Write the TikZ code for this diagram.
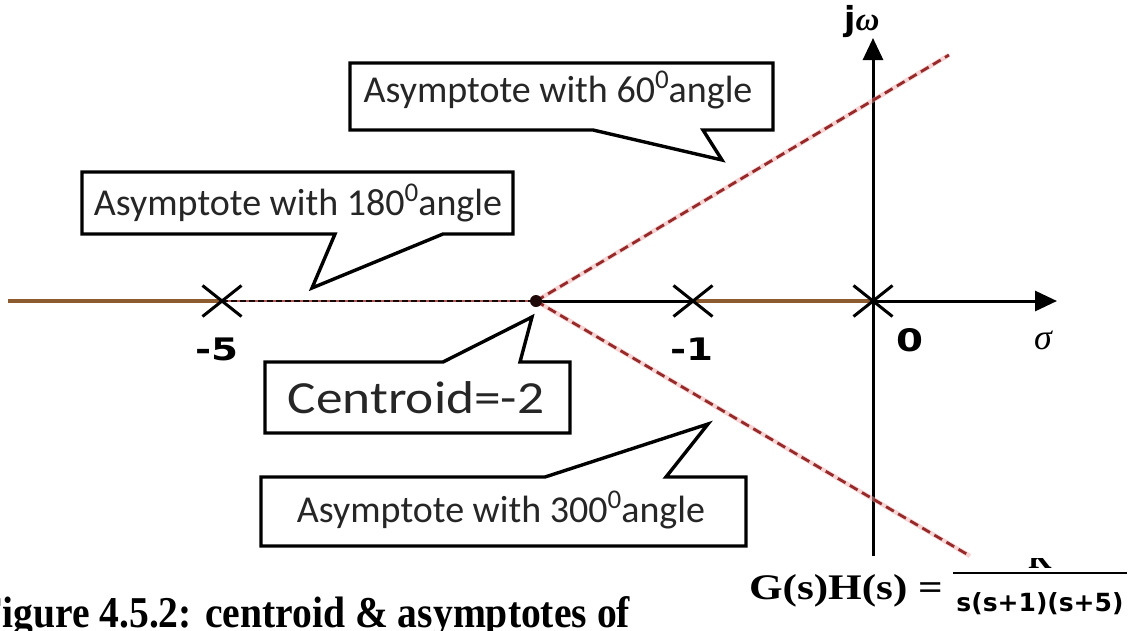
\documentclass[tikz,border=0pt]{standalone}
\usepackage{fontspec}
\usepackage{graphicx}
\setmainfont{Carlito}
\newfontfamily\capfont{Liberation Serif}
\newfontfamily\djv{DejaVu Sans}
\usetikzlibrary{arrows.meta,shapes.misc}
\definecolor{rlocus}{RGB}{140,92,48}
\definecolor{asy}{RGB}{150,42,42}
\definecolor{asyglow}{RGB}{240,170,170}
\definecolor{txt}{RGB}{38,38,38}
\newcommand\sdeg{\raisebox{0.36em}{\fontsize{27}{30}\selectfont 0}}
\begin{document}
\begin{tikzpicture}[x=1pt,y=-1pt,
  axis/.style={line width=3pt,black},
  rootl/.style={line width=3.8pt,rlocus},
  asyline/.style={line width=2.8pt,asy,dash pattern=on 9pt off 5pt},
  glow/.style={line width=4.5pt,asyglow,opacity=0.5},
  polex/.style={draw,cross out,line width=3pt,minimum width=36pt,minimum height=28pt,inner sep=0pt},
  callout/.style={draw=black,line width=3.4pt,fill=white,line join=miter},
  btxt/.style={font=\fontsize{38}{44}\selectfont,text=txt,inner sep=0pt},
  lbl/.style={font=\djv\bfseries\fontsize{31}{34}\selectfont,inner sep=0pt},
  tip/.style={-{Triangle[length=22pt,width=20pt]}}
]
\clip (0,0) rectangle (1129,630);
\fill[white] (0,0) rectangle (1129,630);

% coordinates
\coordinate (left) at (8,301);
\coordinate (p5) at (222,301);
\coordinate (cen) at (536,301);
\coordinate (p1) at (693,301);
\coordinate (p0) at (873,301);
\coordinate (sigend) at (1057,301);
\coordinate (wtop) at (873,38);
\coordinate (wbot) at (873,556);
\coordinate (up) at (949,55);
\coordinate (dn) at (970,556);

% axes and loci
\draw[axis,tip] (cen) -- (sigend);
\draw[axis,tip] (wbot) -- (wtop);
\draw[rootl] (left) -- (p5);
\draw[rootl] (p1) -- (p0);
\draw[line width=1.6pt,asy!80!white] (p5) -- (cen);
\draw[line width=2.4pt,black!85!asy,dash pattern=on 6pt off 3pt] (p5) -- (cen);

% asymptotes
\draw[glow] (cen) -- (up);
\draw[glow] (cen) -- (dn);
\draw[asyline] (cen) -- (up);
\draw[asyline] (cen) -- (dn);

% poles and centroid
\node[polex] (x5) at (p5) {};
\node[polex] (x1) at (p1) {};
\node[polex] (x0) at (p0) {};
\node[circle,fill=black!80!asy,minimum size=12pt,inner sep=0pt] (cdot) at (cen) {};

% axis labels
\node[lbl,anchor=base] (l5) at (217,360) {\scalebox{1.25}[1]{-5}};
\node[lbl,anchor=base] (l1) at (692,360) {\scalebox{1.25}[1]{-1}};
\node[lbl,anchor=base] (l0) at (910,351) {\scalebox{1.25}[1]{0}};
\node[inner sep=0pt,anchor=base] (sig) at (1043,349) {\capfont\itshape\fontsize{36}{40}\selectfont σ};
\node[inner sep=0pt,anchor=base] (jw) at (862,30) {\fontsize{33}{36}\selectfont{\djv\bfseries j}{\capfont\bfseries\itshape ω}};

% callouts
\draw[callout] (350,63) -- (773,63) -- (773,130) -- (703,130) -- (722,160) -- (593,130) -- (350,130) -- cycle;
\draw[callout] (82,172) -- (513,172) -- (513,234) -- (443,234) -- (312,288) -- (335,234) -- (82,234) -- cycle;
\draw[callout] (265,362) -- (443,362) -- (532,317) -- (520,362) -- (570,362) -- (570,433) -- (265,433) -- cycle;
\draw[callout] (261,477) -- (545,477) -- (708,424) -- (666,477) -- (746,477) -- (746,546) -- (261,546) -- cycle;

\node[btxt,anchor=base] (t60) at (558,102) {Asymptote with 60\sdeg angle};
\node[btxt,anchor=base] (t180) at (298,215) {Asymptote with 180\sdeg angle};
\node[btxt,anchor=base,font=\fontsize{46}{52}\selectfont] (tc) at (416,413) {\scalebox{1.16}[1]{Centroid=-2}};
\node[btxt,anchor=base] (t300) at (501,522) {Asymptote with 300\sdeg angle};

% formula
\node[inner sep=0pt,anchor=base east] (gh) at (943,599) {\scalebox{1.2}[1]{\capfont\bfseries\fontsize{36}{40}\selectfont G(s)H(s) =}};
\coordinate (fl) at (953,573);
\coordinate (fr) at (1127,573);
\draw[line width=2.8pt] (fl) -- (fr);
\node[inner sep=0pt,anchor=base] (den) at (1040,611) {\djv\bfseries\fontsize{25}{28}\selectfont s(s+1)(s+5)};
\begin{scope}
\clip (990,558) rectangle (1090,569);
\node[inner sep=0pt,anchor=base] (num) at (1040,568) {\capfont\bfseries\fontsize{30}{34}\selectfont K};
\end{scope}

% caption
\node[inner sep=0pt,anchor=base west] (cap) at (-22,627) {\scalebox{0.9}[1]{\capfont\bfseries\fontsize{44}{50}\selectfont Figure 4.5.2: centroid \& asymptotes of}};
\end{tikzpicture}
\end{document}
